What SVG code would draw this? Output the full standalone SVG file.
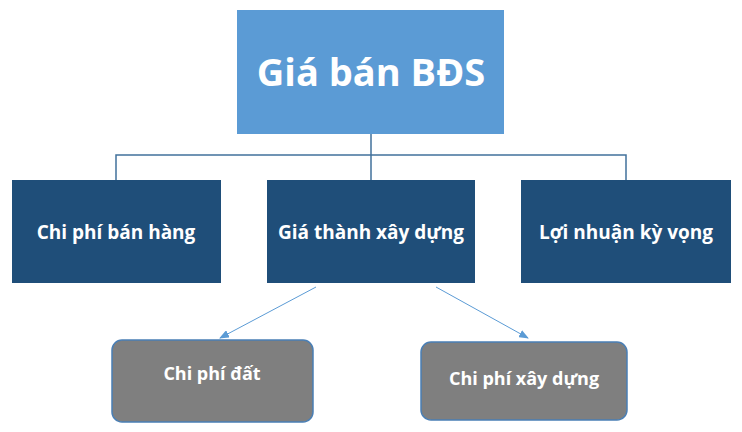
<svg xmlns="http://www.w3.org/2000/svg" width="742" height="432" viewBox="0 0 742 432">
<style>
text{font-family:"Open Sans","Liberation Sans",sans-serif;font-weight:bold;fill:#fff;text-anchor:middle}
.mid{fill:#1f4e79}
.low{fill:#7f7f7f;stroke:#4a7fb5;stroke-width:1.5}
.c{stroke:#41719c;stroke-width:1.5;fill:none}
.a{stroke:#5b9bd5;stroke-width:1;fill:none;marker-end:url(#ah)}
</style>
<defs><marker id="ah" markerWidth="10" markerHeight="8" refX="9" refY="4" orient="auto" markerUnits="userSpaceOnUse"><path d="M0,0 L10,4 L0,8 Z" fill="#5b9bd5"/></marker></defs>
<rect width="742" height="432" fill="#fff"/>
<g id="connectors">
<path class="c" d="M371,134 V155 M116,180 V155 H626 V180 M371,155 V180"/>
<line class="a" x1="316" y1="287" x2="220" y2="338"/>
<line class="a" x1="436" y1="287" x2="528" y2="338"/>
</g>
<g id="top"><rect x="237" y="10" width="267" height="124" fill="#5b9bd5"/><text x="371" y="86" font-size="38">Giá bán BĐS</text></g>
<g id="n1"><rect class="mid" x="12" y="180" width="209" height="103"/><text x="116" y="239" font-size="19">Chi phí bán hàng</text></g>
<g id="n2"><rect class="mid" x="267" y="180" width="208" height="103"/><text x="371" y="239" font-size="19">Giá thành xây dựng</text></g>
<g id="n3"><rect class="mid" x="521" y="180" width="210" height="103"/><text x="626" y="239" font-size="19">Lợi nhuận kỳ vọng</text></g>
<g id="n4"><rect class="low" x="112" y="340" width="201" height="82" rx="10"/><text x="212" y="380" font-size="18">Chi phí đất</text></g>
<g id="n5"><rect class="low" x="421" y="342" width="206" height="78" rx="10"/><text x="524" y="385" font-size="18">Chi phí xây dựng</text></g>
</svg>
